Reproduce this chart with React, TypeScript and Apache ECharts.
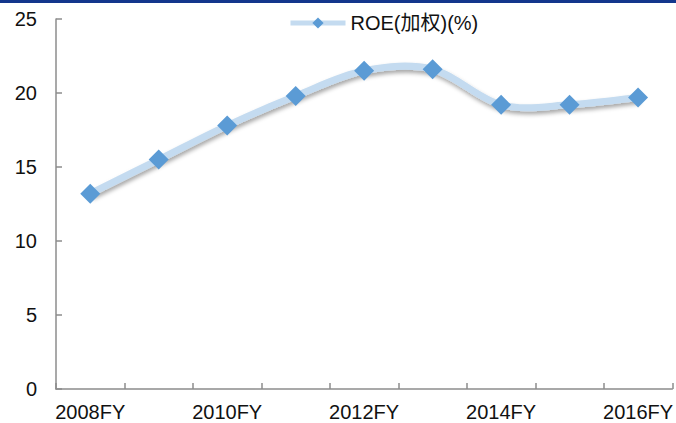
import React, { useEffect, useRef } from "react";
import * as echarts from "echarts";

const categories = ["2008FY", "2009FY", "2010FY", "2011FY", "2012FY", "2013FY", "2014FY", "2015FY", "2016FY"];
const roeValues = [13.2, 15.5, 17.8, 19.8, 21.5, 21.6, 19.2, 19.2, 19.7];
const seriesName = "ROE(加权)(%)";

const FONT = "'Liberation Sans', Arial, 'Noto Sans CJK SC', sans-serif";
const LINE_COLOR = "#c4dbf0";

export default function App() {
  const ref = useRef<HTMLDivElement>(null);
  useEffect(() => {
    if (!ref.current) return;
    const chart = echarts.init(ref.current, undefined, { renderer: "svg" });
    chart.setOption({
      animation: false,
      backgroundColor: "#ffffff",
      textStyle: { fontFamily: FONT },
      graphic: [
        {
          type: "rect",
          left: 0,
          top: 0,
          shape: { width: 676, height: 3 },
          style: { fill: "#13368c" },
        },
      ],
      legend: {
        left: 283,
        top: 8,
        itemWidth: 55,
        itemHeight: 14,
        itemGap: 5,
        textStyle: { fontSize: 20, color: "#111", fontFamily: FONT },
        lineStyle: { opacity: 1, width: 5, color: LINE_COLOR },
        data: [seriesName],
      },
      grid: { left: 56, right: 2, top: 19, bottom: 34, containLabel: false },
      xAxis: {
        type: "category",
        data: categories,
        boundaryGap: true,
        axisLine: { show: true, lineStyle: { color: "#8c8c8c", width: 1.5 } },
        axisTick: { show: true, inside: true, length: 6, interval: 0, lineStyle: { color: "#8c8c8c", width: 1.5 } },
        axisLabel: { interval: 1, fontSize: 20, color: "#111", margin: 13, fontFamily: FONT },
        splitLine: { show: false },
      },
      yAxis: {
        type: "value",
        min: 0,
        max: 25,
        interval: 5,
        axisLine: { show: true, lineStyle: { color: "#8c8c8c", width: 1.5 } },
        axisTick: { show: true, inside: true, length: 6, lineStyle: { color: "#8c8c8c", width: 1.5 } },
        axisLabel: { fontSize: 20, color: "#111", margin: 19, fontFamily: FONT },
        splitLine: { show: false },
      },
      series: [
        {
          name: "curve",
          type: "custom",
          z: 1,
          silent: true,
          data: roeValues.map((v, i) => [i, v]),
          encode: { x: 0, y: 1 },
          renderItem: (params: any, api: any) => {
            if (params.dataIndex !== 0) return null;
            const pts = roeValues.map((v, i) => api.coord([i, v]));
            const n = pts.length;
            let d = `M${pts[0][0]},${pts[0][1]}`;
            for (let i = 0; i < n - 1; i++) {
              const p0 = pts[Math.max(0, i - 1)];
              const p1 = pts[i];
              const p2 = pts[i + 1];
              const p3 = pts[Math.min(n - 1, i + 2)];
              const c1x = p1[0] + (p2[0] - p0[0]) / 6;
              const c1y = p1[1] + (p2[1] - p0[1]) / 6;
              const c2x = p2[0] - (p3[0] - p1[0]) / 6;
              const c2y = p2[1] - (p3[1] - p1[1]) / 6;
              d += ` C${c1x},${c1y} ${c2x},${c2y} ${p2[0]},${p2[1]}`;
            }
            return {
              type: "path",
              shape: { pathData: d },
              style: {
                fill: "none",
                stroke: LINE_COLOR,
                lineWidth: 7,
                shadowColor: "rgba(0,0,0,0.35)",
                shadowBlur: 4,
                shadowOffsetX: 1,
                shadowOffsetY: 3,
              },
            };
          },
        },
        {
          name: seriesName,
          type: "line",
          z: 3,
          data: roeValues,
          symbol: "diamond",
          symbolSize: 20,
          itemStyle: { color: "#5b9bd5" },
          lineStyle: { width: 7, color: LINE_COLOR, opacity: 0 },
        },
      ],
    });
    return () => chart.dispose();
  }, []);
  return <div ref={ref} style={{ width: 676, height: 423, position: "absolute", left: 0, top: 0 }} />;
}
